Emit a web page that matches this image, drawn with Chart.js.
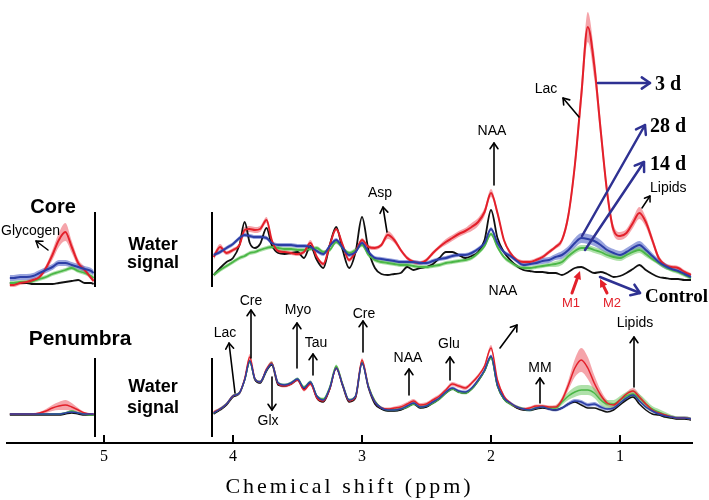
<!DOCTYPE html>
<html><head><meta charset="utf-8">
<script src="https://cdn.jsdelivr.net/npm/chart.js@4.4.1/dist/chart.umd.min.js"></script>
<style>html,body{margin:0;padding:0;background:#fff}canvas{display:block}</style>
</head><body>
<canvas id="c" width="709" height="500"></canvas>
<script>
// Chemical shift grid (ppm). 4.60 is the water-signal gap (no data).
const ppm = [5.73,5.70,5.65,5.60,5.55,5.50,5.45,5.40,5.35,5.30,5.25,5.20,5.15,5.10,5.08, 4.60,
4.15,4.10,4.05,4.00,3.95,3.91,3.87,3.83,3.79,3.74,
3.70,3.65,3.60,3.55,3.50,3.45,3.40,3.35,3.30,3.25,
3.20,3.15,3.10,3.05,3.00,2.95,2.90,2.85,2.80,2.75,
2.70,2.65,2.60,2.55,2.50,2.45,2.40,2.35,2.30,2.25,
2.20,2.15,2.10,2.05,2.00,1.95,1.90,1.85,1.80,1.75,
1.70,1.65,1.60,1.55,1.50,1.45,1.40,1.35,1.30,1.25,
1.20,1.15,1.10,1.05,1.00,0.95,0.90,0.85,0.80,0.75,
0.70,0.65,0.60,0.55,0.50,0.45];
const tickValues = [5,4,3,2,1];

// ---- Core (a.u.) ----
const core3d = [5,5,7,8,10,13,22,35,50,58,43,27,20,12,9, null,
33,43,37,40,45,60,61,60,61,70,
50,39,38,37,36,38,47,33,26,45,
61,45,30,38,50,43,42,45,55,50,
40,32,28,27,30,37,43,48,52,56,
59,63,68,78,97,77,50,37,30,28,
28,30,33,38,43,50,75,125,195,263,
225,160,98,60,54,57,67,77,68,50,
32,25,23,22,18,15];
const core28d = [12,12,13,13,14,17,20,23,27,27,25,23,21,19,17, null,
35,38,42,46,52,55,54,53,53,52,
47,45,45,45,44,44,43,39,36,44,
50,42,35,38,47,38,32,31,30,29,
28,28,28,27,27,29,31,32,34,35,
35,37,41,47,61,47,38,34,29,25,
26,27,29,30,33,35,40,47,52,51,
49,45,40,37,35,38,42,45,40,34,
28,24,21,19,16,13];
const core14d = [7,7,8,8,9,11,13,16,18,20,22,19,17,14,12, null,
15,20,24,28,32,34,37,38,40,42,
43,42,41,41,40,40,41,42,38,40,
48,42,37,40,45,35,30,28,27,26,
25,25,24,23,23,24,25,27,28,29,
30,32,37,44,56,43,33,28,24,22,
22,23,24,25,26,28,34,39,42,42,
40,38,35,33,32,35,38,40,36,31,
27,23,20,18,15,12];
const coreControl = [7,7,7,7,6,6,6,6,7,8,9,10,7,7,6, null,
15,22,28,32,45,68,47,42,46,62,
45,37,36,37,38,32,44,30,22,45,
63,40,22,38,73,40,22,16,15,16,
17,23,20,22,23,26,32,38,38,35,
32,34,38,50,80,52,38,30,24,20,
19,18,18,17,17,15,18,22,23,20,
17,18,16,13,14,17,21,25,20,16,
13,12,11,11,10,10];
// ---- Core standard-error half widths ----
const core3dSd = [2,2,2,2,2,2,3,5,7,9,6,4,3,2,2, null,
3,3,2,2,2,3,3,3,3,3,
2,2,2,2,2,2,3,2,2,2,
2,2,2,2,2,2,2,2,4,3,
2,2,2,2,2,2,2,3,3,3,
3,4,4,4,4,3,2,2,2,2,
2,2,2,2,2,3,5,8,12,15,
13,10,7,5,4,4,5,6,5,4,
3,2,2,2,2,2];
const core28dSd = [3,3,3,3,3,3,3,3,3,3,3,3,3,3,3, null,
2,2,2,2,2,2,2,2,2,2,
2,2,2,2,2,2,2,2,2,2,
2,2,2,2,2,2,2,2,2,2,
2,2,2,2,2,2,2,2,2,2,
2,2,2,2,2,2,2,2,2,2,
2,2,3,3,3,4,4,5,5,5,
5,5,4,4,4,4,4,4,4,3,
3,3,2,2,2,2];
const core14dSd = [2,2,2,2,2,2,2,2,2,2,2,2,2,2,2, null,
2,2,2,2,2,2,2,2,2,2,
2,2,2,2,2,2,2,2,2,2,
2,2,2,2,2,2,2,2,2,2,
2,2,2,2,2,2,2,2,2,2,
2,2,2,2,2,2,2,2,2,2,
2,2,2,2,3,3,3,3,3,3,
3,3,3,3,3,3,3,3,3,2,
2,2,2,2,2,2];

// ---- Penumbra (a.u.) ----
const pen3d = [6,6,6,6,6,7,9,12,14,15,13,10,7,6,6, null,
8,11,16,24,27,41,63,41,38,51,
57,36,34,36,40,30,36,22,19,31,
52,35,19,23,60,33,18,12,11,12,
13,16,19,15,16,20,24,30,36,34,
32,37,44,54,72,40,24,17,13,11,
12,14,14,13,13,20,35,52,60,52,
37,25,17,15,20,26,29,23,16,10,
7,5,3,2,2,1];
const pen28d = [6,6,6,6,6,6,6,6,6,7,8,7,6,6,6, null,
7,11,16,24,27,40,59,41,38,50,
56,37,35,37,41,32,38,24,20,32,
52,35,20,24,57,33,18,12,10,10,
11,14,17,13,14,18,22,28,32,29,
28,32,40,50,64,35,22,17,13,11,
10,12,13,11,10,12,16,19,18,15,
16,13,11,12,17,22,25,19,13,9,
6,4,3,2,2,1];
const pen14d = [6,6,6,6,6,6,6,6,6,7,9,7,6,5,5, null,
7,11,16,24,27,40,58,41,38,50,
57,37,35,37,41,33,38,24,21,33,
54,36,20,24,58,34,19,12,10,10,
11,13,16,13,14,17,21,27,31,28,
27,31,39,49,62,34,21,16,13,11,
10,12,13,12,12,18,24,28,30,30,
27,20,16,16,20,24,26,22,16,11,
8,5,3,2,2,1];
const penControl = [5,5,5,5,5,5,5,5,5,6,7,6,5,5,5, null,
6,10,15,23,27,40,59,40,37,49,
55,35,34,36,40,31,37,22,18,31,
52,34,18,22,57,32,16,11,9,9,
10,13,16,12,13,17,21,27,31,28,
27,31,39,49,63,34,21,16,12,10,
10,11,12,11,10,12,16,18,15,12,
12,10,8,10,15,20,23,16,10,6,
5,3,2,1,1,0];
const pen3dSd = [1,1,1,1,1,1,2,3,4,5,4,2,1,1,1, null,
1.5,1.5,1.5,1.5,1.5,2,3,1.5,1.5,2,
2,1.5,1.5,1.5,1.5,1.5,1.5,1.5,1.5,1.5,
2,1.5,1.5,1.5,2,1.5,1.5,1.5,1.5,1.5,
2,2,2,2,2,2,2,2,2,2,
2,2,2,2,3,2,1.5,1.5,1.5,1.5,
1.5,1.5,1.5,1.5,2,3,5,9,12,11,
8,5,3,2,2,2,3,3,2,1.5,
1.5,1.5,1.5,1.5,1.5,1.5];
const pen28dSd = [1,1,1,1,1,1,1,1,1,1,1,1,1,1,1, null,
1.5,1.5,1.5,1.5,1.5,1.5,1.5,1.5,1.5,1.5,
1.5,1.5,1.5,1.5,1.5,1.5,1.5,1.5,1.5,1.5,
1.5,1.5,1.5,1.5,1.5,1.5,1.5,1.5,1.5,1.5,
1.5,1.5,1.5,1.5,1.5,1.5,1.5,1.5,1.5,1.5,
1.5,1.5,1.5,1.5,1.5,1.5,1.5,1.5,1.5,1.5,
1.5,1.5,1.5,1.5,1.5,1.5,2,2,2,2,
2,2,1.5,1.5,1.5,1.5,1.5,1.5,1.5,1.5,
1.5,1.5,1.5,1.5,1.5,1.5];
const pen14dSd = [1,1,1,1,1,1,1,1,1,1,1,1,1,1,1, null,
1.5,1.5,1.5,1.5,1.5,1.5,1.5,1.5,1.5,1.5,
1.5,1.5,1.5,1.5,1.5,1.5,1.5,1.5,1.5,1.5,
1.5,1.5,1.5,1.5,1.5,1.5,1.5,1.5,1.5,1.5,
1.5,1.5,1.5,1.5,1.5,1.5,1.5,1.5,1.5,1.5,
1.5,1.5,1.5,1.5,1.5,1.5,1.5,1.5,1.5,1.5,
1.5,1.5,1.5,1.5,2,3,4,5,5,5,
5,5,4,4,4,4,4,4,4,3,
3,3,2,1.5,1.5,1.5];

// vertical separators (ppm)
const separatorPpm = [5.07, 4.163];

// ---------- layout constants (pixels in value space) ----------
const CORE_BASE = 153, PEN_BASE = 23;
const COL = {
  red:'#e3202a', redBand:'rgba(236,90,100,0.55)',
  blue:'#2c3ea6', blueBand:'rgba(70,90,195,0.55)',
  green:'#4bb747', greenBand:'rgba(110,200,100,0.55)',
  black:'#111111', navy:'#2e3192'
};

function pts(vals, base, sd, sign){
  return ppm.map((p,i)=>({x:p, y: vals[i]==null ? null : base + vals[i] + (sd ? sign*sd[i] : 0)}));
}
const datasets = [];
function band(vals, sd, base, color){
  datasets.push({data:pts(vals,base,sd,1), borderWidth:0, pointRadius:0, fill:false, order:10, spanGaps:false});
  datasets.push({data:pts(vals,base,sd,-1), borderWidth:0, pointRadius:0, fill:'-1', backgroundColor:color, order:10, spanGaps:false});
}
function line(vals, base, color, w, ord){
  datasets.push({data:pts(vals,base), borderColor:color, borderWidth:w, pointRadius:0, fill:false, order:ord, spanGaps:false});
}
band(core14d, core14dSd, CORE_BASE, COL.greenBand);
band(core28d, core28dSd, CORE_BASE, COL.blueBand);
band(core3d, core3dSd, CORE_BASE, COL.redBand);
band(pen14d, pen14dSd, PEN_BASE, COL.greenBand);
band(pen28d, pen28dSd, PEN_BASE, COL.blueBand);
band(pen3d, pen3dSd, PEN_BASE, COL.redBand);
line(coreControl, CORE_BASE, COL.black, 1.8, 5);
line(core14d, CORE_BASE, COL.green, 1.8, 4);
line(core3d, CORE_BASE, COL.red, 2, 3);
line(core28d, CORE_BASE, COL.blue, 2, 2);
line(penControl, PEN_BASE, COL.black, 1.5, 5);
line(pen14d, PEN_BASE, COL.green, 1.5, 4);
line(pen3d, PEN_BASE, COL.red, 1.5, 3);
line(pen28d, PEN_BASE, COL.blue, 1.5, 2);

function arrow(ctx,x1,y1,x2,y2,color,lw,head,filled){
  const a = Math.atan2(y2-y1,x2-x1);
  ctx.save();
  ctx.strokeStyle=color; ctx.fillStyle=color; ctx.lineWidth=lw; ctx.lineCap='round'; ctx.lineJoin='round';
  ctx.beginPath(); ctx.moveTo(x1,y1); ctx.lineTo(x2 - (filled? Math.cos(a)*head*0.6:0), y2 - (filled? Math.sin(a)*head*0.6:0)); ctx.stroke();
  const s = filled ? 0.45 : 0.6;
  const p1 = [x2 - head*Math.cos(a-s), y2 - head*Math.sin(a-s)];
  const p2 = [x2 - head*Math.cos(a+s), y2 - head*Math.sin(a+s)];
  ctx.beginPath(); ctx.moveTo(p1[0],p1[1]); ctx.lineTo(x2,y2); ctx.lineTo(p2[0],p2[1]);
  if (filled){ ctx.closePath(); ctx.fill(); } else ctx.stroke();
  ctx.restore();
}
function text(ctx,t,x,y,font,color,align){
  ctx.font=font; ctx.fillStyle=color||'#000'; ctx.textAlign=align||'center'; ctx.textBaseline='alphabetic';
  ctx.fillText(t,x,y);
}

const decor = {
  id:'decor',
  beforeDraw(chart){ chart.ctx.letterSpacing='3px'; },
  beforeDatasetsDraw(chart){ chart.ctx.letterSpacing='0px'; },
  afterDraw(chart){
    const ctx = chart.ctx, xs = chart.scales.x;
    ctx.save();
    ctx.letterSpacing='0px';
    // upward tick marks
    ctx.strokeStyle='#000'; ctx.lineWidth=2;
    tickValues.forEach(v=>{ const px=Math.round(xs.getPixelForValue(v)); ctx.beginPath(); ctx.moveTo(px,443); ctx.lineTo(px,435); ctx.stroke(); });
    // separators
    separatorPpm.forEach(p=>{ const px=Math.round(xs.getPixelForValue(p));
      ctx.beginPath(); ctx.moveTo(px,212); ctx.lineTo(px,287); ctx.stroke();
      ctx.beginPath(); ctx.moveTo(px,358); ctx.lineTo(px,437); ctx.stroke(); });
    const sans='Liberation Sans';
    text(ctx,'Core',53,213,'bold 20px '+sans);
    text(ctx,'Penumbra',80,345,'bold 21px '+sans);
    ['Water','signal'].forEach((t,i)=>{ text(ctx,t,153,[250,268][i],'bold 18px '+sans); text(ctx,t,153,[392,413][i],'bold 18px '+sans); });
    const f='14px '+sans;
    text(ctx,'Glycogen',1,235,f,'#000','left');
    arrow(ctx,48,250,36,241,'#000',1.5,7);
    text(ctx,'Asp',380,197,f); arrow(ctx,387,232,383,207,'#000',1.6,7);
    text(ctx,'NAA',492,135,f); arrow(ctx,494,185,494,143,'#000',1.6,7);
    text(ctx,'Lac',546,93,f); arrow(ctx,579,117,563,98,'#000',1.6,7);
    text(ctx,'Lipids',650,192,f,'#000','left'); arrow(ctx,642,208,650,196,'#000',1.5,6);
    const serif='bold 20px "Liberation Serif"';
    text(ctx,'3 d',655,90,serif,'#000','left');
    text(ctx,'28 d',650,132,serif,'#000','left');
    text(ctx,'14 d',650,170,serif,'#000','left');
    text(ctx,'Control',645,302,'bold 19px "Liberation Serif"','#000','left');
    arrow(ctx,598,83,650,83,COL.navy,2.5,10);
    arrow(ctx,582,236,645,125,COL.navy,2.5,10);
    arrow(ctx,585,250,644,162,COL.navy,2.5,10);
    arrow(ctx,600,277,640,293,COL.navy,2.5,10);
    text(ctx,'M1',571,307,'13px '+sans,COL.red); text(ctx,'M2',612,307,'13px '+sans,COL.red);
    arrow(ctx,572,293,580,271,COL.red,3,9,true);
    arrow(ctx,607,293,600,279,COL.red,3,9,true);
    // penumbra labels
    text(ctx,'Lac',225,337,f); arrow(ctx,235,393,229,343,'#000',1.6,7);
    text(ctx,'Cre',251,305,f); arrow(ctx,251,358,251,310,'#000',1.6,7);
    text(ctx,'Glx',268,425,f); arrow(ctx,272,377,272,410,'#000',1.6,7);
    text(ctx,'Myo',298,314,f); arrow(ctx,297,368,297,323,'#000',1.6,7);
    text(ctx,'Tau',316,347,f); arrow(ctx,313,375,313,354,'#000',1.6,7);
    text(ctx,'Cre',364,318,f); arrow(ctx,363,352,363,321,'#000',1.6,7);
    text(ctx,'NAA',408,362,f); arrow(ctx,409,395,409,369,'#000',1.6,7);
    text(ctx,'Glu',449,348,f); arrow(ctx,450,380,450,357,'#000',1.6,7);
    text(ctx,'NAA',503,295,f); arrow(ctx,500,348,517,325,'#000',1.6,7);
    text(ctx,'MM',540,372,f); arrow(ctx,540,403,540,378,'#000',1.6,7);
    text(ctx,'Lipids',635,327,f); arrow(ctx,634,387,634,337,'#000',1.6,7);
    ctx.restore();
  }
};

new Chart(document.getElementById('c'), {
  type:'line',
  data:{datasets},
  options:{
    responsive:false, animation:false, devicePixelRatio:1,
    layout:{padding:{left:7,right:17,top:0,bottom:0}},
    plugins:{legend:{display:false}, tooltip:{enabled:false}},
    elements:{point:{radius:0}, line:{cubicInterpolationMode:'monotone', borderJoinStyle:'round'}},
    scales:{
      x:{type:'linear', reverse:true, min:0.442, max:5.752, position:'bottom',
        afterBuildTicks:s=>{ s.ticks = tickValues.map(v=>({value:v})); },
        afterFit:s=>{ s.height = 57; },
        grid:{display:false, drawTicks:false},
        border:{display:true, color:'#000', width:2},
        ticks:{color:'#000', font:{family:'Liberation Serif', size:16}, padding:4, labelOffset:1.5, maxRotation:0, autoSkip:false},
        title:{display:true, text:'Chemical shift (ppm)', color:'#000', font:{family:'Liberation Serif', size:22}, padding:{top:0,bottom:0}}
      },
      y:{display:false, min:0, max:443}
    }
  },
  plugins:[decor]
});
</script>
</body></html>
